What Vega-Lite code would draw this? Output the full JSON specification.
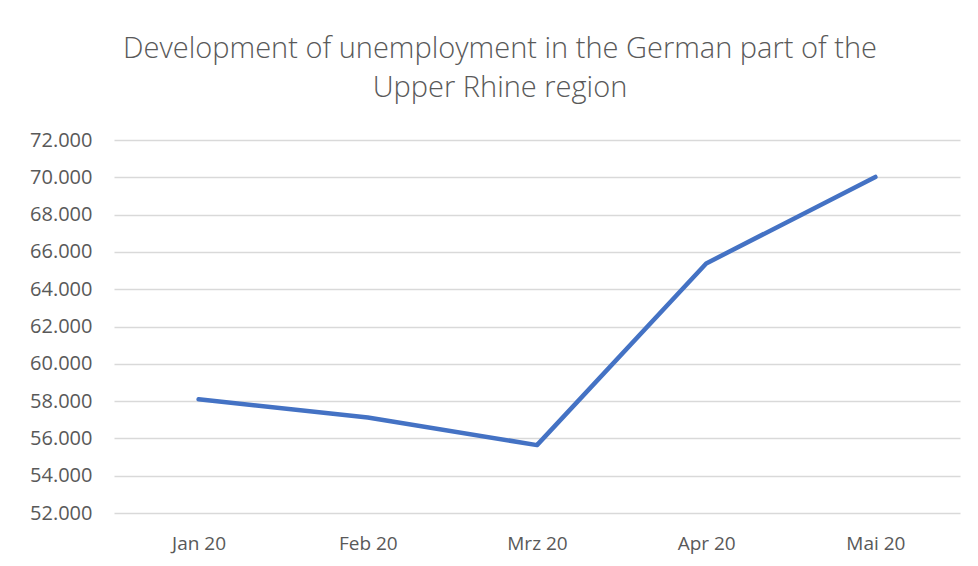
{
  "$schema": "https://vega.github.io/schema/vega-lite/v6.json",
  "autosize": {"type": "none"},
  "width": 846,
  "height": 373,
  "padding": {"left": 114, "top": 140, "right": 18, "bottom": 53},
  "background": "white",
  "title": {
    "text": ["Development of unemployment in the German part of the", "Upper Rhine region"],
    "anchor": "middle",
    "frame": "group",
    "dx": -37,
    "offset": 27,
    "font": "Open Sans",
    "fontWeight": 300,
    "fontSize": 29,
    "lineHeight": 39,
    "color": "#595959"
  },
  "data": {
    "values": [
      {"month": "Jan 20", "unemployed": 58100},
      {"month": "Feb 20", "unemployed": 57120},
      {"month": "Mrz 20", "unemployed": 55640},
      {"month": "Apr 20", "unemployed": 65380},
      {"month": "Mai 20", "unemployed": 70020}
    ]
  },
  "mark": {"type": "line", "color": "#4472C4", "strokeWidth": 4.5, "strokeCap": "round", "strokeJoin": "round"},
  "encoding": {
    "x": {
      "field": "month",
      "type": "ordinal",
      "sort": null,
      "scale": {"type": "point", "padding": 0.5},
      "axis": {
        "title": null,
        "labelAngle": 0,
        "ticks": false,
        "domain": false,
        "grid": false,
        "labelPadding": 21,
        "labelFont": "Open Sans",
        "labelFontSize": 19,
        "labelColor": "#595959"
      }
    },
    "y": {
      "field": "unemployed",
      "type": "quantitative",
      "scale": {"domain": [52000, 72000], "zero": false, "nice": false},
      "axis": {
        "title": null,
        "values": [52000, 54000, 56000, 58000, 60000, 62000, 64000, 66000, 68000, 70000, 72000],
        "labelExpr": "replace(format(datum.value, ',.0f'), ',', '.')",
        "ticks": false,
        "domain": false,
        "grid": true,
        "gridColor": "#d9d9d9",
        "gridWidth": 1.3,
        "labelPadding": 22,
        "labelFont": "Open Sans",
        "labelFontSize": 20,
        "labelColor": "#595959"
      }
    }
  },
  "config": {"view": {"stroke": null}}
}
